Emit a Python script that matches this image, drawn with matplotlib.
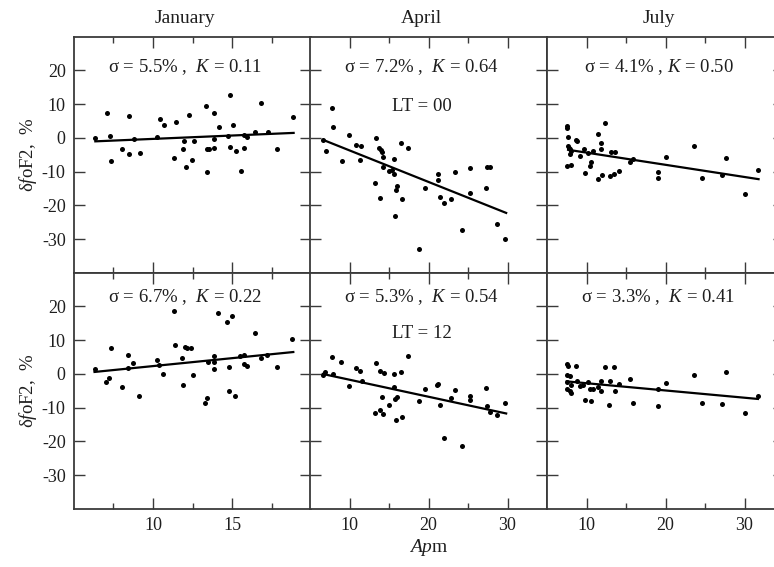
import numpy as np
import matplotlib
matplotlib.use("Agg")
import matplotlib.pyplot as plt
from matplotlib.ticker import FixedLocator

plt.rcParams['font.family'] = ['Liberation Serif', 'DejaVu Serif']
plt.rcParams['mathtext.fontset'] = 'custom'
plt.rcParams['mathtext.rm'] = 'Liberation Serif'
plt.rcParams['mathtext.it'] = 'Liberation Serif:italic'
plt.rcParams['axes.unicode_minus'] = False

# ---- data ----
months = ['January', 'April', 'July']
stats_00 = ['σ = 5.5% ,  $K$ = 0.11', 'σ = 7.2% ,  $K$ = 0.64', 'σ = 4.1% , $K$ = 0.50']
stats_12 = ['σ = 6.7% ,  $K$ = 0.22', 'σ = 5.3% ,  $K$ = 0.54', 'σ = 3.3% ,  $K$ = 0.41']

# January, LT = 00
jan00_x = [6.35, 7.09, 7.28, 7.36, 8.06, 8.46, 8.46, 8.78, 9.18, 10.27, 10.44, 10.68, 11.35,
           11.43, 11.9, 11.94, 12.07, 12.26, 12.47, 12.57, 13.35, 13.44, 13.44, 13.54, 13.86,
           13.86, 13.86, 14.18, 14.75, 14.85, 14.85, 15.06, 15.25, 15.55, 15.76, 15.76, 15.95,
           16.46, 16.86, 17.26, 17.85, 18.84]
jan00_y = [0.0, 7.35, 0.7, -6.9, -3.2, 6.6, -4.8, -0.3, -4.4, 0.4, 5.6, 3.7, -5.9,
           4.6, -3.2, -0.8, -8.6, 6.9, -6.4, -0.8, 9.6, -3.2, -10.0, -3.4, 7.5,
           -3.0, -0.3, 3.3, 0.7, 12.6, -2.7, 3.9, -4.0, -9.8, -3.0, 0.9, 0.2,
           1.9, 10.4, 1.9, -3.2, 6.3]
jan00_fit_x = [6.35, 18.9]
jan00_fit_y = [-1.0, 1.5]

# April, LT = 00
apr00_x = [6.7, 7.0, 7.76, 7.89, 8.99, 9.92, 10.85, 11.48, 11.27, 13.17, 13.3, 13.72, 13.89,
           13.93, 14.1, 14.23, 14.27, 14.95, 15.33, 15.58, 15.58, 15.79, 15.88, 15.96, 16.51,
           16.64, 17.4, 18.84, 19.6, 21.16, 21.2, 21.42, 22.0, 22.8, 23.32, 24.2, 25.22, 25.3,
           27.34, 27.4, 27.76, 28.73, 29.7]
apr00_y = [-0.6, -3.9, 8.8, 3.3, -6.7, 0.8, -2.0, -2.3, -6.4, -13.4, 0.0, -2.9, -17.9,
           -3.5, -4.1, -5.5, -8.7, -9.9, -9.6, -6.3, -10.6, -23.1, -15.5, -14.1, -1.5,
           -18.0, -2.9, -33.0, -14.7, -10.6, -12.5, -17.5, -19.4, -18.0, -10.1, -27.4, -9.0, -16.4,
           -14.8, -8.6, -8.7, -25.5, -29.9]
apr00_fit_x = [6.7, 29.83]
apr00_fit_y = [-0.6, -22.2]

# July, LT = 00
jul00_x = [7.59, 7.59, 7.67, 7.67, 7.8, 7.89, 8.01, 7.97, 7.5, 8.1, 8.73, 8.82, 9.15, 9.66,
           9.79, 10.13, 10.42, 10.63, 10.85, 11.4, 11.48, 11.78, 11.78, 11.99, 12.37, 12.96,
           13.09, 13.59, 13.51, 14.1, 15.5, 15.84, 19.0, 19.0, 20.0, 23.6, 24.63, 27.12,
           27.63, 30.0, 31.7]
jul00_y = [3.6, 2.9, 0.2, -2.3, -2.9, -3.2, -3.9, -4.7, -8.2, -7.9, -0.6, -1.0, -5.2, -3.4,
           -10.3, -4.5, -8.4, -7.0, -3.9, 1.3, -12.3, -1.6, -3.2, -10.9, 4.3, -11.4,
           -4.2, -4.2, -10.6, -9.8, -7.1, -6.2, -10.1, -11.9, -5.5, -2.3, -12.0, -10.9,
           -6.0, -16.5, -9.6]
jul00_fit_x = [7.67, 31.78]
jul00_fit_y = [-3.5, -12.2]

# January, LT = 12
jan12_x = [6.3, 7.02, 7.21, 7.32, 8.01, 8.41, 8.44, 8.73, 9.11, 10.23, 10.4, 10.63, 11.33,
           11.42, 11.84, 11.92, 12.01, 12.18, 12.39, 12.52, 13.3, 13.4, 13.51, 13.83, 13.83,
           13.83, 14.12, 14.71, 14.82, 14.82, 15.03, 15.22, 15.52, 15.73, 15.73, 15.92, 16.43,
           16.83, 17.23, 17.82, 18.82]
jan12_y = [1.6, -2.5, -1.3, 7.8, -3.8, 5.6, 1.9, 3.2, -6.6, 4.0, 2.6, 0.0, 18.8,
           8.7, 4.7, -3.3, 7.9, 7.7, 7.7, -0.4, -8.6, -7.1, 3.5, 5.4, 3.5,
           1.4, 18.0, 15.4, 2.1, -4.9, 17.1, -6.6, 5.3, 5.6, 3.1, 2.5, 12.1,
           4.7, 5.6, 2.1, 10.4]
jan12_fit_x = [6.3, 18.88]
jan12_fit_y = [0.6, 6.5]

# April, LT = 12
apr12_x = [6.62, 6.91, 7.8, 7.89, 8.94, 9.92, 10.85, 11.27, 11.56, 13.17, 13.3, 13.8, 13.89,
           14.1, 14.23, 14.31, 14.99, 15.58, 15.62, 15.79, 15.92, 16.0, 16.51, 16.64, 17.4,
           18.84, 19.6, 21.12, 21.2, 21.42, 22.0, 22.8, 23.32, 24.2, 25.22, 25.3, 27.34,
           27.42, 27.76, 28.73, 29.7]
apr12_y = [-0.2, 0.6, 4.9, 0.0, 3.6, -3.5, 1.8, 1.0, -2.1, -11.7, 3.3, 1.0, -10.8,
           -6.9, -12.0, 0.3, -9.1, 0.1, -3.9, -7.3, -13.5, -6.9, 0.6, -12.7, 5.4,
           -8.1, -4.4, -3.2, -2.9, -9.1, -18.9, -7.1, -4.7, -21.4, -6.6, -7.7, -4.2,
           -9.6, -11.3, -12.3, -8.6]
apr12_fit_x = [6.62, 29.83]
apr12_fit_y = [0.0, -11.7]

# July, LT = 12
jul12_x = [7.59, 7.67, 7.59, 7.89, 7.5, 7.59, 7.93, 8.01, 8.1, 8.73, 8.82, 9.15, 9.58, 9.79,
           10.21, 10.42, 10.63, 10.85, 11.48, 11.78, 11.78, 12.33, 12.88, 13.0, 13.51, 13.59,
           14.1, 15.5, 15.88, 19.0, 19.0, 20.0, 23.6, 24.63, 27.12, 27.63, 30.0, 31.7]
jul12_y = [3.1, 2.3, -0.2, -0.7, -2.5, -4.4, -5.1, -5.6, -3.2, 2.3, -2.2, -3.6, -3.2, -7.6,
           -2.4, -4.4, -7.9, -4.4, -3.9, -2.2, -4.9, 2.0, -9.3, -2.0, 2.0, -4.9,
           -3.0, -1.5, -8.6, -4.6, -9.6, -2.7, -0.4, -8.6, -8.9, 0.6, -11.5, -6.6]
jul12_fit_x = [7.5, 31.7]
jul12_fit_y = [-2.2, -7.4]

rows = [
    [(jan00_x, jan00_y, jan00_fit_x, jan00_fit_y),
     (apr00_x, apr00_y, apr00_fit_x, apr00_fit_y),
     (jul00_x, jul00_y, jul00_fit_x, jul00_fit_y)],
    [(jan12_x, jan12_y, jan12_fit_x, jan12_fit_y),
     (apr12_x, apr12_y, apr12_fit_x, apr12_fit_y),
     (jul12_x, jul12_y, jul12_fit_x, jul12_fit_y)],
]
stat_y = [21, 22.7]      # height of the sigma/K text in each row (data units)
lt_text = ['LT = 00', 'LT = 12']
lt_y = [9.4, 12.1]

# ---- figure ----
W, H = 774, 567
fig = plt.figure(figsize=(W / 100, H / 100), dpi=100)

col_left = [74, 310, 547]
col_w = 237
row_top = [36.7, 272.7]
row_h = 236.3

spine_c = '#3a3a3a'
text_c = '#1e1e1e'
txt_kw = dict(ha='center', va='center', fontsize=13.5, color=text_c)

for r in range(2):
    for c in range(3):
        x0 = col_left[c] / W
        y0 = 1 - (row_top[r] + row_h) / H
        ax = fig.add_axes([x0, y0, col_w / W, row_h / H])
        px, py, fx, fy = rows[r][c]
        ax.scatter(px, py, s=13, color='black', linewidths=0, zorder=3)
        ax.plot(fx, fy, color='black', lw=1.6, zorder=2)

        ax.set_ylim(-40, 30)
        ax.yaxis.set_major_locator(FixedLocator([-30, -20, -10, 0, 10, 20]))
        if c == 0:
            ax.set_xlim(5, 20)
            ax.xaxis.set_major_locator(FixedLocator([10, 15]))
            ax.xaxis.set_minor_locator(FixedLocator([7.5, 12.5, 17.5]))
        else:
            ax.set_xlim(5, 35)
            ax.xaxis.set_major_locator(FixedLocator([10, 20, 30]))
            ax.xaxis.set_minor_locator(FixedLocator([15, 25]))

        ax.tick_params(which='both', direction='in', top=True, right=True,
                       color=spine_c, labelcolor=text_c, labelsize=13, width=1.0)
        ax.tick_params(which='major', length=8, pad=6)
        ax.tick_params(which='minor', length=4)
        for s in ax.spines.values():
            s.set_color(spine_c)
            s.set_linewidth(1.3)

        if c != 0:
            ax.tick_params(labelleft=False)
        if r == 0:
            ax.tick_params(labelbottom=False)
            ax.text(0.47, 1.078, months[c], transform=ax.transAxes, ha='center',
                    va='center', fontsize=14, color=text_c)

        stats = stats_00 if r == 0 else stats_12
        ax.text(0.47, (stat_y[r] + 40) / 70, stats[c], transform=ax.transAxes, **txt_kw)
        if c == 1:
            ax.text(0.47, (lt_y[r] + 40) / 70, lt_text[r], transform=ax.transAxes, **txt_kw)

        if c == 0:
            ax.set_ylabel('δ$f$oF2,  %', fontsize=13.5, color=text_c, labelpad=2)
        if r == 1 and c == 1:
            ax.set_xlabel('$Ap$m', fontsize=14, color=text_c, labelpad=2)

fig.savefig('out.png', dpi=100)
